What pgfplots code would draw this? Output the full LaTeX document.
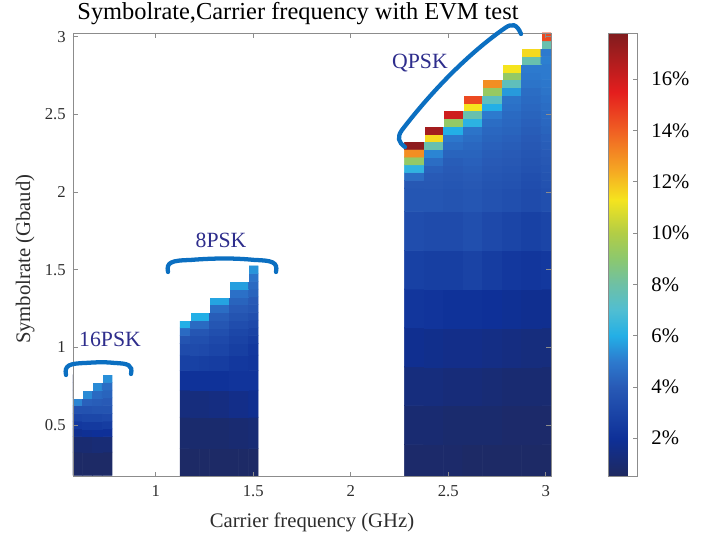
\documentclass[border=0pt]{standalone}
\usepackage{pgfplots}
\pgfplotsset{compat=1.18}
\usepackage{fontspec}
\setmainfont{Liberation Serif}
\definecolor{axgray}{RGB}{140,140,140}
\definecolor{txtgray}{RGB}{45,45,45}
\definecolor{brblue}{RGB}{11,111,193}
\definecolor{annot}{RGB}{46,45,140}
\begin{document}
\begin{tikzpicture}
\useasboundingbox (-54.75pt,-45.975pt) rectangle (477pt,357.525pt);
\begin{axis}[
  at={(0pt,0pt)}, anchor=south west,
  scale only axis, width=358.5pt, height=332.775pt,
  xmin=0.575, xmax=3.027, ymin=0.167, ymax=3.025,
  y dir=normal,
  axis on top,
  xtick={1,1.5,2,2.5,3}, xticklabels={1,1.5,2,2.5,3},
  ytick={0.5,1,1.5,2,2.5,3}, yticklabels={0.5,1,1.5,2,2.5,3},
  tick align=inside, major tick length=3.5pt,
  axis line style={axgray, line width=0.6pt},
  every tick/.style={axgray, line width=0.6pt},
  tick label style={font=\fontsize{12.5}{14}\selectfont, text=txtgray},
  yticklabel style={xshift=-2pt},
  xticklabel style={yshift=-3pt},
  /pgf/number format/assume math mode=true,
  xlabel={Carrier frequency (GHz)}, ylabel={Symbolrate (Gbaud)},
  label style={font=\fontsize{15.5}{18}\selectfont, text=txtgray},
  xlabel style={at={(axis description cs:0.5,-0.102)}, anchor=center},
  ylabel style={at={(axis description cs:-0.1,0.49)}, anchor=center},
  colormap={evm}{rgb255(5pt)=(31,41,94); rgb255(20pt)=(14,48,152); rgb255(40pt)=(40,90,182); rgb255(50pt)=(45,122,206); rgb255(60pt)=(35,175,230); rgb255(70pt)=(80,190,210); rgb255(80pt)=(110,192,165); rgb255(90pt)=(140,200,110); rgb255(100pt)=(178,205,70); rgb255(113pt)=(245,228,30); rgb255(125pt)=(245,165,35); rgb255(140pt)=(240,95,35); rgb255(155pt)=(228,30,30); rgb255(178pt)=(128,28,30)},
  point meta min=0.5, point meta max=17.8,
  colorbar,
  colorbar style={
    at={(parent axis.south east)}, anchor=south west, xshift=34.5pt,
    scale only axis, width=21.75pt, height=332.775pt,
    ytick={2,4,6,8,10,12,14,16},
    yticklabels={2\%,4\%,6\%,8\%,10\%,12\%,14\%,16\%},
    ytick pos=right, yticklabel pos=right,
    tick align=inside, major tick length=3pt,
    axis line style={axgray, line width=0.6pt},
    every tick/.style={black!45, line width=0.6pt},
    yticklabel style={font=\fontsize{15.5}{18}\selectfont, text=black, xshift=7pt},
  },
]
% 16PSK
\addplot[matrix plot*, mesh/cols=4, point meta=explicit] table[meta=c] {
x y c
0.60 0.25 0.7
0.65 0.25 0.7
0.70 0.25 0.7
0.75 0.25 0.7
0.60 0.40 1.0
0.65 0.40 1.0
0.70 0.40 1.1
0.75 0.40 1.1
0.60 0.45 1.8
0.65 0.45 1.9
0.70 0.45 2.0
0.75 0.45 2.0
0.60 0.50 2.4
0.65 0.50 2.5
0.70 0.50 2.5
0.75 0.50 2.6
0.60 0.55 3.0
0.65 0.55 3.1
0.70 0.55 3.1
0.75 0.55 3.2
0.60 0.60 3.6
0.65 0.60 3.6
0.70 0.60 3.7
0.75 0.60 3.7
0.60 0.65 5.2
0.65 0.65 4.2
0.70 0.65 4.1
0.75 0.65 4.0
0.60 0.70 1.0
0.65 0.70 5.3
0.70 0.70 4.5
0.75 0.70 4.3
0.60 0.75 1.0
0.65 0.75 1.0
0.70 0.75 5.3
0.75 0.75 4.6
0.60 0.80 1.0
0.65 0.80 1.0
0.70 0.80 1.0
0.75 0.80 5.4
};
% 8PSK
\addplot[matrix plot*, mesh/cols=8, point meta=explicit] table[meta=c] {
x y c
1.15 0.25 0.7
1.20 0.25 0.7
1.25 0.25 0.7
1.30 0.25 0.7
1.35 0.25 0.7
1.40 0.25 0.7
1.45 0.25 0.7
1.50 0.25 0.7
1.15 0.45 0.9
1.20 0.45 0.9
1.25 0.45 0.9
1.30 0.45 0.9
1.35 0.45 0.9
1.40 0.45 1.0
1.45 0.45 1.0
1.50 0.45 1.1
1.15 0.65 1.3
1.20 0.65 1.3
1.25 0.65 1.3
1.30 0.65 1.4
1.35 0.65 1.4
1.40 0.65 1.6
1.45 0.65 1.6
1.50 0.65 1.8
1.15 0.80 2.1
1.20 0.80 2.1
1.25 0.80 2.1
1.30 0.80 2.1
1.35 0.80 2.1
1.40 0.80 2.2
1.45 0.80 2.2
1.50 0.80 2.2
1.15 0.90 2.8
1.20 0.90 2.8
1.25 0.90 2.7
1.30 0.90 2.6
1.35 0.90 2.6
1.40 0.90 2.4
1.45 0.90 2.4
1.50 0.90 2.3
1.15 1.00 3.3
1.20 1.00 3.3
1.25 1.00 3.2
1.30 1.00 3.0
1.35 1.00 3.0
1.40 1.00 2.7
1.45 1.00 2.7
1.50 1.00 2.4
1.15 1.05 3.7
1.20 1.05 3.5
1.25 1.05 3.5
1.30 1.05 3.2
1.35 1.05 3.2
1.40 1.05 2.9
1.45 1.05 2.9
1.50 1.05 2.6
1.15 1.10 4.5
1.20 1.10 3.8
1.25 1.10 3.8
1.30 1.10 3.5
1.35 1.10 3.5
1.40 1.10 3.1
1.45 1.10 3.1
1.50 1.10 2.9
1.15 1.15 6.0
1.20 1.15 4.5
1.25 1.15 4.5
1.30 1.15 3.8
1.35 1.15 3.8
1.40 1.15 3.4
1.45 1.15 3.4
1.50 1.15 3.2
1.15 1.20 1.0
1.20 1.20 6.0
1.25 1.20 6.0
1.30 1.20 4.1
1.35 1.20 4.1
1.40 1.20 3.7
1.45 1.20 3.7
1.50 1.20 3.5
1.15 1.25 1.0
1.20 1.25 1.0
1.25 1.25 1.0
1.30 1.25 4.6
1.35 1.25 4.6
1.40 1.25 4.0
1.45 1.25 4.0
1.50 1.25 3.8
1.15 1.30 1.0
1.20 1.30 1.0
1.25 1.30 1.0
1.30 1.30 5.8
1.35 1.30 5.8
1.40 1.30 4.3
1.45 1.30 4.3
1.50 1.30 4.0
1.15 1.35 1.0
1.20 1.35 1.0
1.25 1.35 1.0
1.30 1.35 1.0
1.35 1.35 1.0
1.40 1.35 4.7
1.45 1.35 4.7
1.50 1.35 4.3
1.15 1.40 1.0
1.20 1.40 1.0
1.25 1.40 1.0
1.30 1.40 1.0
1.35 1.40 1.0
1.40 1.40 5.7
1.45 1.40 5.7
1.50 1.40 4.5
1.15 1.45 1.0
1.20 1.45 1.0
1.25 1.45 1.0
1.30 1.45 1.0
1.35 1.45 1.0
1.40 1.45 1.0
1.45 1.45 1.0
1.50 1.45 4.8
1.15 1.50 1.0
1.20 1.50 1.0
1.25 1.50 1.0
1.30 1.50 1.0
1.35 1.50 1.0
1.40 1.50 1.0
1.45 1.50 1.0
1.50 1.50 5.5
};
% QPSK
\addplot[matrix plot*, mesh/cols=8, point meta=explicit] table[meta=c] {
x y c
2.325 0.25 0.8
2.425 0.25 0.8
2.525 0.25 0.8
2.625 0.25 0.7
2.725 0.25 0.7
2.825 0.25 0.7
2.925 0.25 0.7
3.025 0.25 0.7
2.325 0.50 1.0
2.425 0.50 1.0
2.525 0.50 0.9
2.625 0.50 0.9
2.725 0.50 0.9
2.825 0.50 0.8
2.925 0.50 0.8
3.025 0.50 0.8
2.325 0.75 1.3
2.425 0.75 1.3
2.525 0.75 1.2
2.625 0.75 1.2
2.725 0.75 1.1
2.825 0.75 1.0
2.925 0.75 1.0
3.025 0.75 1.0
2.325 1.00 1.8
2.425 1.00 1.7
2.525 1.00 1.6
2.625 1.00 1.6
2.725 1.00 1.5
2.825 1.00 1.4
2.925 1.00 1.3
3.025 1.00 1.3
2.325 1.25 2.3
2.425 1.25 2.2
2.525 1.25 2.1
2.625 1.25 2.1
2.725 1.25 2.0
2.825 1.25 1.9
2.925 1.25 1.8
3.025 1.25 1.8
2.325 1.50 2.8
2.425 1.50 2.7
2.525 1.50 2.7
2.625 1.50 2.9
2.725 1.50 2.6
2.825 1.50 2.4
2.925 1.50 2.3
3.025 1.50 2.4
2.325 1.75 3.4
2.425 1.75 3.3
2.525 1.75 3.3
2.625 1.75 3.5
2.725 1.75 3.2
2.825 1.75 3.0
2.925 1.75 2.8
3.025 1.75 3.0
2.325 2.00 3.8
2.425 2.00 3.8
2.525 2.00 3.7
2.625 2.00 3.8
2.725 2.00 3.6
2.825 2.00 3.5
2.925 2.00 3.3
3.025 2.00 3.5
2.325 2.05 3.9
2.425 2.05 3.9
2.525 2.05 3.8
2.625 2.05 3.9
2.725 2.05 3.7
2.825 2.05 3.6
2.925 2.05 3.4
3.025 2.05 3.6
2.325 2.10 4.6
2.425 2.10 4.0
2.525 2.10 3.9
2.625 2.10 4.0
2.725 2.10 3.8
2.825 2.10 3.7
2.925 2.10 3.5
3.025 2.10 3.7
2.325 2.15 6.3
2.425 2.15 4.2
2.525 2.15 4.0
2.625 2.15 4.1
2.725 2.15 3.9
2.825 2.15 3.8
2.925 2.15 3.6
3.025 2.15 3.8
2.325 2.20 9.2
2.425 2.20 4.6
2.525 2.20 4.1
2.625 2.20 4.2
2.725 2.20 4.0
2.825 2.20 3.9
2.925 2.20 3.7
3.025 2.20 3.9
2.325 2.25 13.0
2.425 2.25 5.2
2.525 2.25 4.3
2.625 2.25 4.3
2.725 2.25 4.1
2.825 2.25 4.0
2.925 2.25 3.8
3.025 2.25 4.0
2.325 2.30 17.5
2.425 2.30 7.8
2.525 2.30 4.6
2.625 2.30 4.4
2.725 2.30 4.2
2.825 2.30 4.1
2.925 2.30 3.9
3.025 2.30 4.1
2.325 2.35 1.0
2.425 2.35 11.5
2.525 2.35 4.9
2.625 2.35 4.6
2.725 2.35 4.3
2.825 2.35 4.2
2.925 2.35 4.0
3.025 2.35 4.2
2.325 2.40 1.0
2.425 2.40 17.0
2.525 2.40 6.0
2.625 2.40 4.8
2.725 2.40 4.4
2.825 2.40 4.3
2.925 2.40 4.1
3.025 2.40 4.3
2.325 2.45 1.0
2.425 2.45 1.0
2.525 2.45 9.2
2.625 2.45 6.2
2.725 2.45 4.6
2.825 2.45 4.4
2.925 2.45 4.2
3.025 2.45 4.4
2.325 2.50 1.0
2.425 2.50 1.0
2.525 2.50 16.0
2.625 2.50 7.8
2.725 2.50 5.0
2.825 2.50 4.5
2.925 2.50 4.3
3.025 2.50 4.5
2.325 2.55 1.0
2.425 2.55 1.0
2.525 2.55 1.0
2.625 2.55 11.3
2.725 2.55 6.0
2.825 2.55 4.7
2.925 2.55 4.4
3.025 2.55 4.6
2.325 2.60 1.0
2.425 2.60 1.0
2.525 2.60 1.0
2.625 2.60 14.5
2.725 2.60 7.4
2.825 2.60 4.8
2.925 2.60 4.5
3.025 2.60 4.7
2.325 2.65 1.0
2.425 2.65 1.0
2.525 2.65 1.0
2.625 2.65 1.0
2.725 2.65 9.3
2.825 2.65 5.6
2.925 2.65 4.6
3.025 2.65 4.8
2.325 2.70 1.0
2.425 2.70 1.0
2.525 2.70 1.0
2.625 2.70 1.0
2.725 2.70 13.0
2.825 2.70 7.5
2.925 2.70 4.8
3.025 2.70 4.9
2.325 2.75 1.0
2.425 2.75 1.0
2.525 2.75 1.0
2.625 2.75 1.0
2.725 2.75 1.0
2.825 2.75 9.2
2.925 2.75 4.9
3.025 2.75 5.0
2.325 2.80 1.0
2.425 2.80 1.0
2.525 2.80 1.0
2.625 2.80 1.0
2.725 2.80 1.0
2.825 2.80 11.3
2.925 2.80 5.0
3.025 2.80 5.0
2.325 2.85 1.0
2.425 2.85 1.0
2.525 2.85 1.0
2.625 2.85 1.0
2.725 2.85 1.0
2.825 2.85 1.0
2.925 2.85 7.8
3.025 2.85 5.1
2.325 2.90 1.0
2.425 2.90 1.0
2.525 2.90 1.0
2.625 2.90 1.0
2.725 2.90 1.0
2.825 2.90 1.0
2.925 2.90 11.5
3.025 2.90 5.0
2.325 2.95 1.0
2.425 2.95 1.0
2.525 2.95 1.0
2.625 2.95 1.0
2.725 2.95 1.0
2.825 2.95 1.0
2.925 2.95 1.0
3.025 2.95 7.8
2.325 3.00 1.0
2.425 3.00 1.0
2.525 3.00 1.0
2.625 3.00 1.0
2.725 3.00 1.0
2.825 3.00 1.0
2.925 3.00 1.0
3.025 3.00 14.5
};
% untested region above each staircase (white)
\addplot[fill=white, draw=white, line width=0.4pt] coordinates {(0.57,0.675) (0.625,0.675) (0.625,0.725) (0.675,0.725) (0.675,0.775) (0.725,0.775) (0.725,0.825) (0.78,0.825) (0.78,0.95) (0.57,0.95)} -- cycle;
\addplot[fill=white, draw=white, line width=0.4pt] coordinates {(1.12,1.175) (1.175,1.175) (1.175,1.225) (1.275,1.225) (1.275,1.325) (1.375,1.325) (1.375,1.425) (1.475,1.425) (1.475,1.6) (1.12,1.6)} -- cycle;
\addplot[fill=white, draw=white, line width=0.4pt] coordinates {(2.27,2.325) (2.375,2.325) (2.375,2.425) (2.475,2.425) (2.475,2.525) (2.575,2.525) (2.575,2.625) (2.675,2.625) (2.675,2.725) (2.775,2.725) (2.775,2.825) (2.875,2.825) (2.875,2.925) (2.975,2.925) (2.975,3.1) (2.27,3.1)} -- cycle;
\end{axis}
\begin{scope}[x=0.75pt, y=-0.75pt, shift={(-54.75pt,357.525pt)}]
\node[font=\fontsize{18.3}{22}\selectfont, text=black] at (298,14) {Symbolrate,Carrier frequency with EVM test};
\draw[brblue, line width=3.2pt, line cap=round] (66,375) .. controls (64,365) and (70,363.5) .. (85,363) .. controls (100,362) and (105,362) .. (115,363) .. controls (128,363.5) and (133,365) .. (131,374);
\draw[brblue, line width=3.2pt, line cap=round] (168,272) .. controls (166,262) and (172,260.5) .. (190,260) .. controls (215,258) and (235,258) .. (255,260) .. controls (272,260.5) and (278,262) .. (276,272);
\draw[brblue, line width=3.2pt, line cap=round] (405,147) .. controls (398,142) and (397,137) .. (402,130) .. controls (425,100) and (462,58) .. (505,28) .. controls (512,23) and (517,24) .. (521,34);
\node[font=\fontsize{16.3}{19}\selectfont, text=annot] at (110,339) {16PSK};
\node[font=\fontsize{16.3}{19}\selectfont, text=annot] at (221,240) {8PSK};
\node[font=\fontsize{16.3}{19}\selectfont, text=annot] at (420,63) {QPSK};
\end{scope}
\end{tikzpicture}
\end{document}
